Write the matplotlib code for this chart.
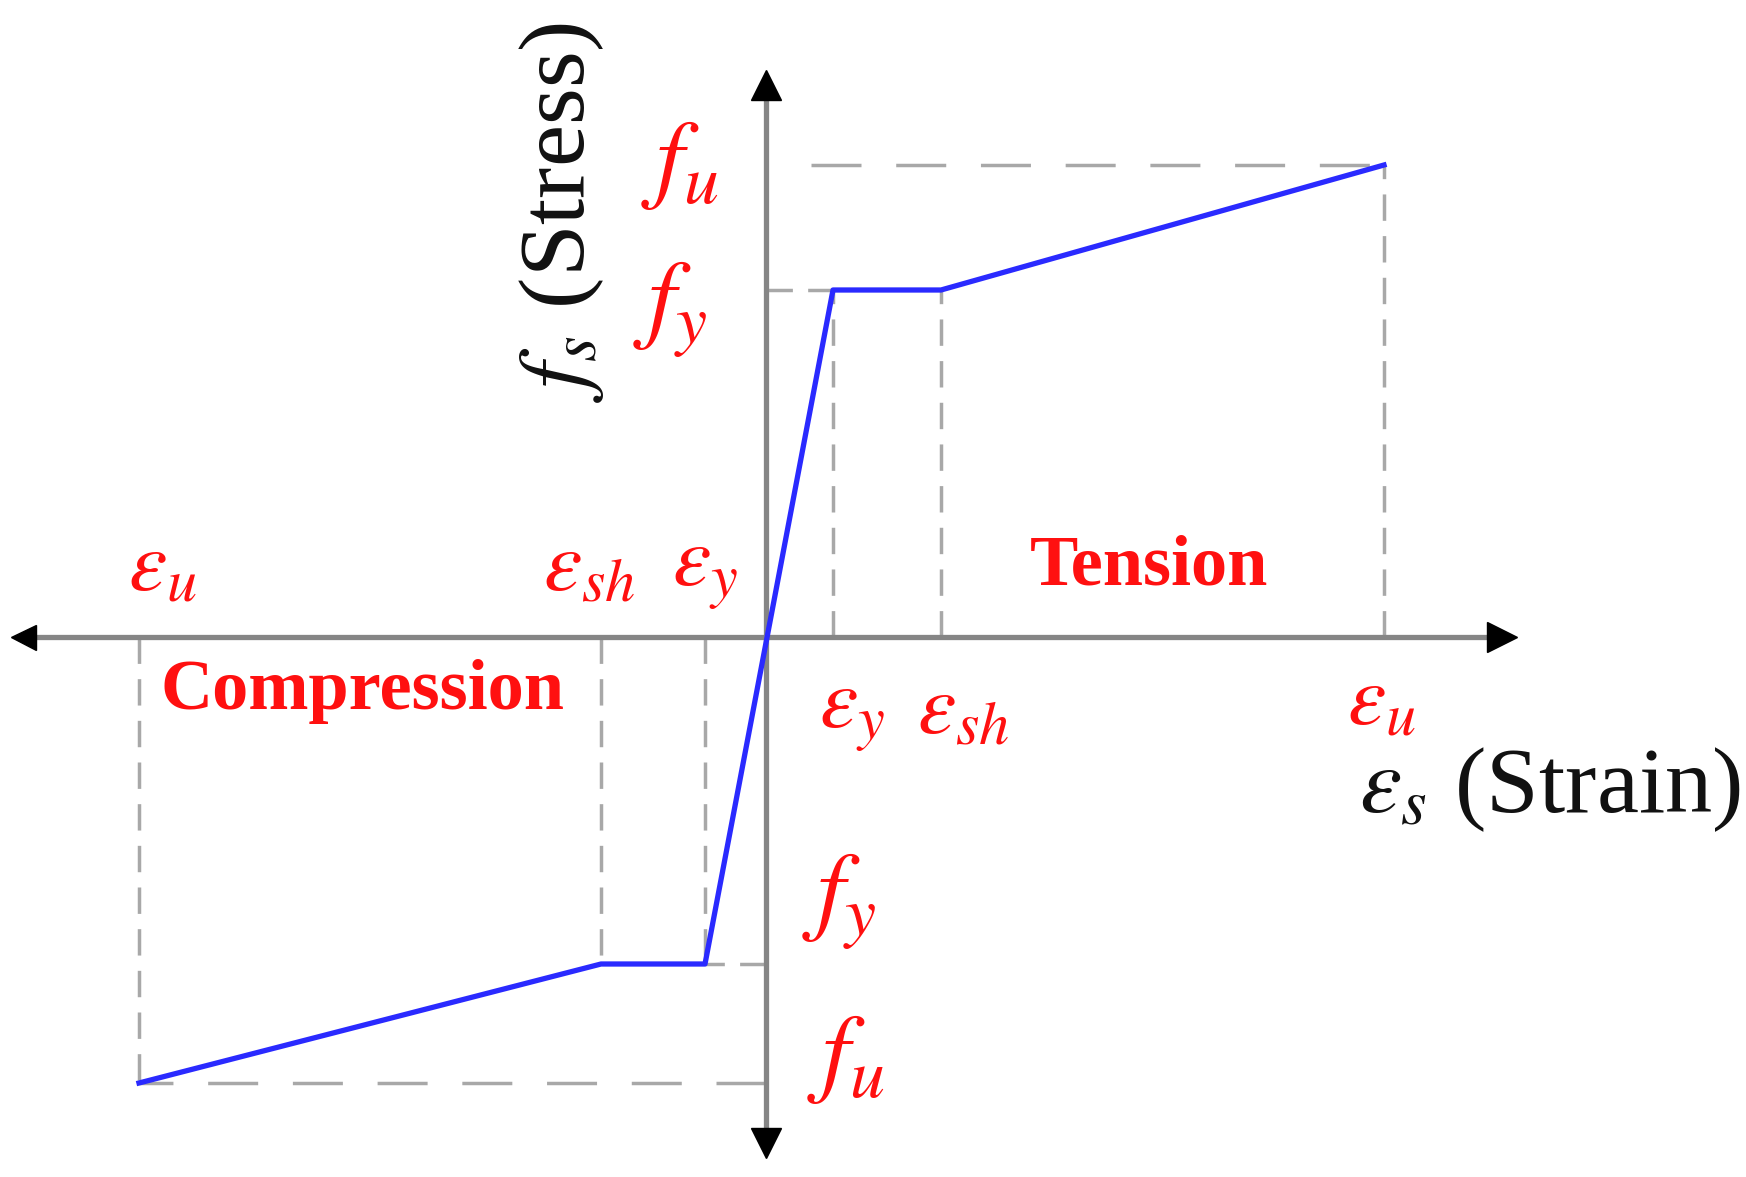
import matplotlib
matplotlib.use("Agg")
import matplotlib.pyplot as plt

plt.rcParams['mathtext.fontset'] = 'stix'
plt.rcParams['lines.scale_dashes'] = False

# Idealised steel stress-strain curve (units: arbitrary, origin at axes crossing)
strain = [-6.27, -1.65, -0.61, 0.67, 1.75, 6.18]
stress = [-4.46, -3.27, -3.27, 3.47, 3.47, 4.72]

# key points on the tension / compression side
eps_t = {'y': 0.67, 'sh': 1.75, 'u': 6.18}
eps_c = {'y': -0.61, 'sh': -1.65, 'u': -6.27}
f_t = {'y': 3.47, 'u': 4.72}
f_c = {'y': -3.27, 'u': -4.46}

red = '#ff1010'
guide = '#a8a8a8'

fig = plt.figure(figsize=(17.46, 11.77), dpi=100)
ax = fig.add_axes([0, 0, 1, 1])
ax.set_xlim(-7.66, 9.80)
ax.set_ylim(-5.40, 6.37)
ax.axis('off')

# dashed guides
short = dict(color=guide, lw=2.5, dashes=(19, 11), zorder=1)
long_ = dict(color=guide, lw=2.5, dashes=(36, 25), zorder=1)
ax.plot([eps_t['y'], eps_t['y']], [0, f_t['y']], **short)
ax.plot([eps_t['sh'], eps_t['sh']], [0, f_t['y']], **short)
ax.plot([eps_t['u'], eps_t['u']], [0, f_t['u']], **short)
ax.plot([0, eps_t['y']], [f_t['y'], f_t['y']], **short)
ax.plot([0.45, eps_t['u']], [f_t['u'], f_t['u']], **long_)
ax.plot([eps_c['y'], eps_c['y']], [0, f_c['y']], **short)
ax.plot([eps_c['sh'], eps_c['sh']], [0, f_c['y']], **short)
ax.plot([eps_c['u'], eps_c['u']], [0, f_c['u']], **short)
ax.plot([0, eps_c['y']], [f_c['y'], f_c['y']], **short)
ax.plot([0, eps_c['u']], [f_c['u'], f_c['u']], **long_)

# axes with arrow heads
ax.plot([-7.45, 7.40], [0, 0], color='#858585', lw=3.8, zorder=2)
ax.plot([0, 0], [-5.12, 5.55], color='#858585', lw=3.8, zorder=2)
ax.plot(7.36, 0, marker='>', ms=22, color='black', zorder=3)
ax.plot(-7.43, 0, marker='<', ms=18, color='black', zorder=3)
ax.plot(0, 5.52, marker='^', ms=22, color='black', zorder=3)
ax.plot(0, -5.06, marker='v', ms=22, color='black', zorder=3)

# the curve
ax.plot(strain, stress, color='#2a2aff', lw=3.8, zorder=4)

# labels
fs_f = 72
fs_e = 62
ax.text(-0.86, 4.73, r'$f_u$', color=red, fontsize=fs_f, ha='center', va='center')
ax.text(-0.96, 3.27, r'$f_y$', color=red, fontsize=fs_f, ha='center', va='center')
ax.text(0.73, -2.65, r'$f_y$', color=red, fontsize=fs_f, ha='center', va='center')
ax.text(0.80, -4.21, r'$f_u$', color=red, fontsize=fs_f, ha='center', va='center')
ax.text(-6.04, 0.70, r'$\varepsilon_u$', color=red, fontsize=fs_e, ha='center', va='center')
ax.text(-1.77, 0.70, r'$\varepsilon_{sh}$', color=red, fontsize=fs_e, ha='center', va='center')
ax.text(-0.61, 0.67, r'$\varepsilon_y$', color=red, fontsize=fs_e, ha='center', va='center')
ax.text(0.86, -0.75, r'$\varepsilon_y$', color=red, fontsize=fs_e, ha='center', va='center')
ax.text(1.97, -0.73, r'$\varepsilon_{sh}$', color=red, fontsize=fs_e, ha='center', va='center')
ax.text(6.15, -0.64, r'$\varepsilon_u$', color=red, fontsize=fs_e, ha='center', va='center')

ax.text(3.83, 0.70, 'Tension', color=red, fontsize=52, fontweight='bold',
        family='Liberation Serif', ha='center', va='center')
ax.text(-4.03, -0.55, 'Compression', color=red, fontsize=52, fontweight='bold',
        family='Liberation Serif', ha='center', va='center')

ax.text(7.84, -1.53, r'$\varepsilon_s$ (Strain)', color='#111111', fontsize=68,
        family='Liberation Serif', ha='center', va='center')
ax.text(-2.04, 4.25, r'$f_s$ (Stress)', color='#111111', fontsize=68,
        family='Liberation Serif', ha='center', va='center', rotation=90)

fig.savefig('out.png', dpi=100)
